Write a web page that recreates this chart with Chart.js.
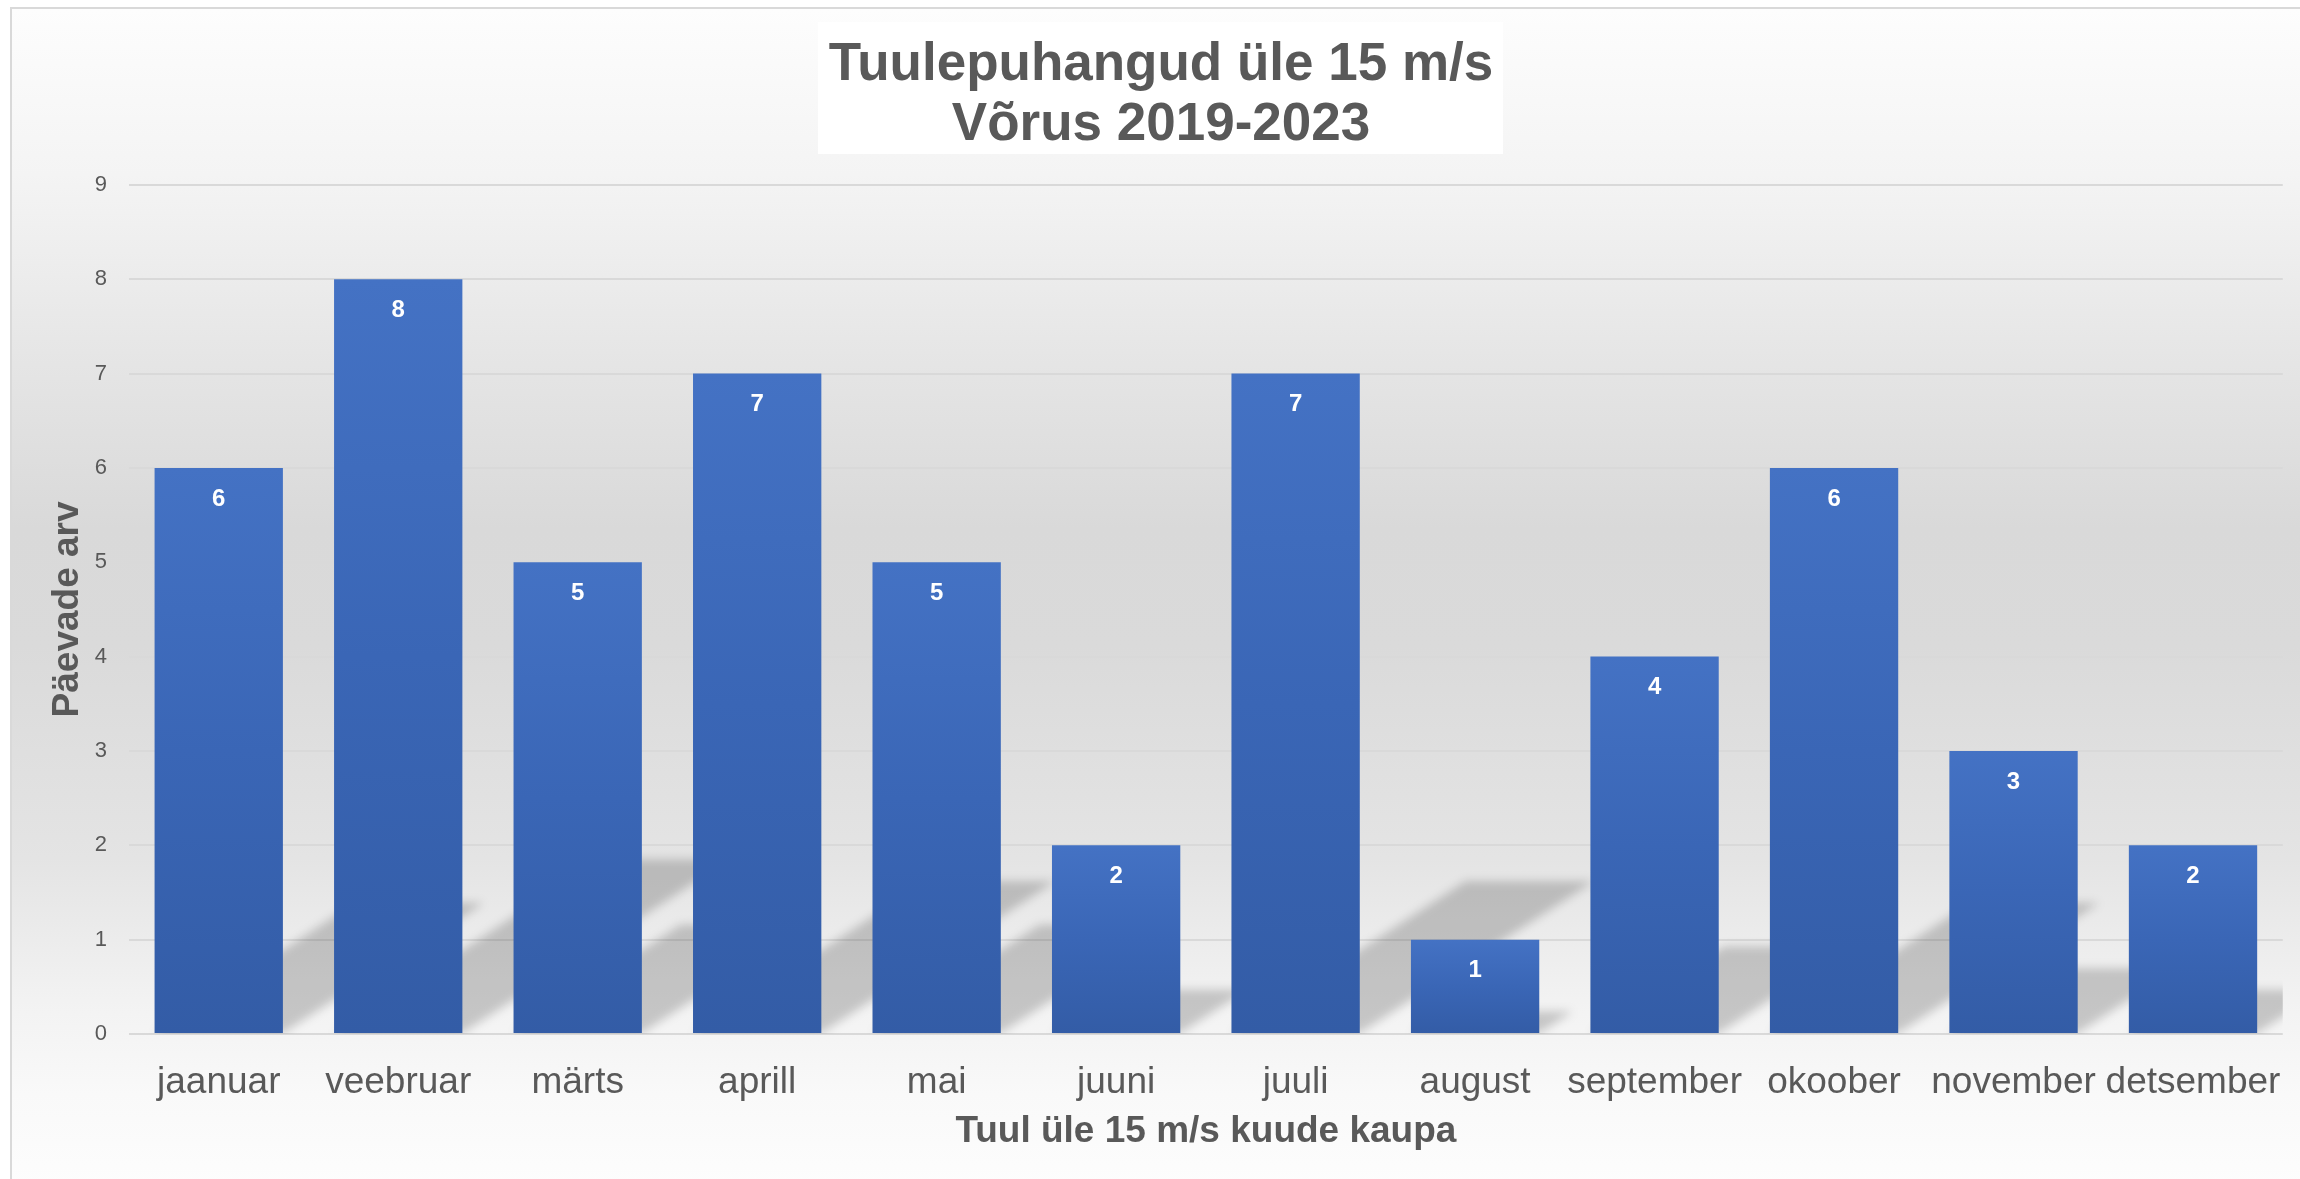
<!DOCTYPE html>
<html>
<head>
<meta charset="utf-8">
<script src="https://cdn.jsdelivr.net/npm/chart.js@4.4.1/dist/chart.umd.min.js"></script>
<style>
  html, body { margin: 0; padding: 0; background: #ffffff; overflow: hidden; }
  #bg {
    position: absolute; left: 10px; top: 7px; width: 2300px; height: 1180px;
    border-left: 2px solid #d9d9d9; border-top: 2px solid #d9d9d9;
    background: linear-gradient(to bottom, #fdfdfd 0%, #f4f4f4 14%, #e6e6e6 29%, #d9d9d9 44%,
      #dadada 54%, #e4e4e4 72%, #f2f2f2 84%, #f9f9f9 92%, #fdfdfd 100%);
  }
  #myChart { position: absolute; left: 0; top: 0; }
</style>
</head>
<body>
<div id="bg"></div>
<canvas id="myChart" width="2300" height="1179"></canvas>
<script>
var months = ['jaanuar', 'veebruar', 'märts', 'aprill', 'mai', 'juuni',
              'juuli', 'august', 'september', 'okoober', 'november', 'detsember'];
var values = [6, 8, 5, 7, 5, 2, 7, 1, 4, 6, 3, 2];
var titleLines = ['Tuulepuhangud üle 15 m/s', 'Võrus 2019-2023'];
var yTitle = 'Päevade arv';
var xTitle = 'Tuul üle 15 m/s kuude kaupa';

var textColor = '#595959';
var fontFamily = '"Liberation Sans", Arial, sans-serif';

// white box behind the chart title
var titleBox = {
  id: 'titleBox',
  beforeDraw: function (chart) {
    var c = chart.ctx;
    c.save();
    c.fillStyle = 'rgba(255,255,255,0.95)';
    c.fillRect(818, 22, 685, 132);
    c.restore();
  }
};

// slanted drop shadows behind the bars
var barShadows = {
  id: 'barShadows',
  beforeDatasetsDraw: function (chart) {
    var c = chart.ctx;
    var area = chart.chartArea;
    var meta = chart.getDatasetMeta(0);
    c.save();
    c.beginPath();
    c.rect(area.left, area.top, area.right - area.left, area.bottom - area.top);
    c.clip();
    c.filter = 'blur(5px)';
    c.fillStyle = 'rgba(0,0,0,0.19)';
    meta.data.forEach(function (bar) {
      var h = bar.base - bar.y;
      var left = bar.x - bar.width / 2;
      var right = bar.x + bar.width / 2;
      var dx = h * 0.355;
      var dy = h * 0.23;
      c.beginPath();
      c.moveTo(left, bar.base);
      c.lineTo(right, bar.base);
      c.lineTo(right + dx, bar.base - dy);
      c.lineTo(left + dx, bar.base - dy);
      c.closePath();
      c.fill();
    });
    c.restore();
  }
};

// value labels inside the top of each bar
var barLabels = {
  id: 'barLabels',
  afterDatasetsDraw: function (chart) {
    var c = chart.ctx;
    var meta = chart.getDatasetMeta(0);
    c.save();
    c.fillStyle = '#ffffff';
    c.font = 'bold 24px ' + fontFamily;
    c.textAlign = 'center';
    c.textBaseline = 'middle';
    meta.data.forEach(function (bar, i) {
      c.fillText(values[i], bar.x, bar.y + 31);
    });
    c.restore();
  }
};

var ctx = document.getElementById('myChart');

var graphData = {
  type: 'bar',
  data: {
    labels: months,
    datasets: [{
      label: yTitle,
      data: values,
      backgroundColor: function (context) {
        var chart = context.chart;
        if (!chart.chartArea || context.type !== 'data') return '#4472c4';
        var yTop = chart.scales.y.getPixelForValue(context.raw);
        var yBase = chart.scales.y.getPixelForValue(0);
        var g = chart.ctx.createLinearGradient(0, yTop, 0, yBase);
        g.addColorStop(0, '#4472c4');
        g.addColorStop(0.5, '#3a66b6');
        g.addColorStop(1, '#335ca6');
        return g;
      },
      borderWidth: 0,
      categoryPercentage: 1,
      barPercentage: 0.715
    }]
  },
  options: {
    responsive: false,
    animation: false,
    layout: { padding: { left: 36, right: 14, top: 0, bottom: 0 } },
    plugins: {
      legend: { display: false },
      tooltip: { enabled: false },
      title: {
        display: true,
        text: titleLines,
        color: textColor,
        font: { family: fontFamily, size: 53, weight: 'bold', lineHeight: 1.14 },
        padding: { top: 35, bottom: 29 }
      }
    },
    scales: {
      x: {
        grid: { display: false },
        border: { display: false },
        ticks: {
          color: textColor,
          font: { family: fontFamily, size: 37 },
          padding: 19,
          autoSkip: false,
          maxRotation: 0,
          minRotation: 0
        },
        title: {
          display: true,
          text: xTitle,
          color: textColor,
          font: { family: fontFamily, size: 37, weight: 'bold' },
          padding: { top: 0, bottom: 25 }
        },
        afterFit: function (scale) { scale.height = 145; }
      },
      y: {
        min: 0,
        max: 9,
        ticks: {
          stepSize: 1,
          color: textColor,
          font: { family: fontFamily, size: 22 },
          padding: 22
        },
        grid: { color: '#d9d9d9', lineWidth: 2, drawTicks: false },
        border: { display: false },
        title: {
          display: true,
          text: yTitle,
          color: textColor,
          font: { family: fontFamily, size: 37, weight: 'bold' },
          padding: { top: 10, bottom: 0 }
        },
        afterFit: function (scale) { scale.width = 93; }
      }
    }
  },
  plugins: [titleBox, barShadows, barLabels]
};

var myChart = new Chart(ctx, graphData);
</script>
</body>
</html>
